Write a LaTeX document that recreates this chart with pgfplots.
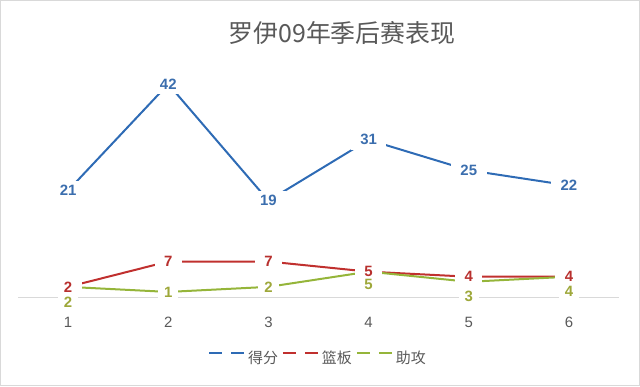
\documentclass[border=0pt]{standalone}
\usepackage{fontspec}
\setmainfont{Liberation Sans}
\newfontfamily\cjk{Noto Sans CJK SC}
\usepackage{pgfplots}
\pgfplotsset{compat=1.18}
\definecolor{cblue}{HTML}{2E6BB5}
\definecolor{cred}{HTML}{C0302E}
\definecolor{cgreen}{HTML}{95B53A}
\definecolor{lblue}{HTML}{3B6EAE}
\definecolor{lred}{HTML}{B8302E}
\definecolor{lgreen}{HTML}{9EA83A}
\definecolor{tgray}{HTML}{595959}
\definecolor{fgray}{HTML}{D9D9D9}

\pgfplotstableread{
x y v
1 21 21
2 42 42
3 19 19
4 31 31
5 25 25
6 22 22
}\ptsdata
\pgfplotstableread{
x y v
1 2 2
2 7 7
3 7 7
4 5 5
5 4 4
6 4 4
}\rebdata
\pgfplotstableread{
x y v
1 2 2
2 1 1
3 2 2
4 5 5
5 3 3
6 4 4
}\astdata
\pgfplotstableread{
x y v
1 -1 2
2 1 1
3 2 2
4 2.45 5
5 0.2 3
6 1.2 4
}\astlabels

\begin{document}
\begin{tikzpicture}[x=1bp,y=1bp]
\draw[fgray, line width=1bp] (0.5,0.5) rectangle (639.5,385.5);
\useasboundingbox (0,0) rectangle (640,386);
\node[text=tgray, font=\cjk\fontsize{25}{30}\selectfont] at (342,353) {罗伊09年季后赛表现};
\begin{axis}[
  at={(18bp,89bp)}, anchor=south west,
  scale only axis, width=601bp, height=253.5bp,
  xmin=0.5, xmax=6.5, ymin=0, ymax=50,
  axis x line=bottom, axis y line=none,
  x axis line style={fgray, line width=1bp, -},
  xtick={1,2,3,4,5,6}, major tick length=0pt,
  xticklabel style={anchor=center, yshift=-25bp, font=\fontsize{15}{18}\selectfont, text=tgray},
  /pgf/number format/assume math mode=true,
  clip=false,
  legend style={at={(0.499,-0.2406)}, anchor=center, draw=none, fill=none,
    legend columns=-1, font=\cjk\fontsize{15}{18}\selectfont, text=tgray,
    /tikz/every even column/.style={column sep=2bp},
    /tikz/every odd column/.style={column sep=1bp}},
  legend image code/.code={\draw[#1, line width=2bp, dash pattern=on 13bp off 9bp] (0,0) -- (35bp,0);},
  every node near coord/.append style={anchor=center, font=\bfseries\fontsize{15}{18}\selectfont, fill=white, inner xsep=9.5bp, inner ysep=4.5bp},
]
\addplot[cblue, line width=2bp, line join=round] table[x=x,y=y] {\ptsdata};
\addlegendentry{得分}
\addplot[cred, line width=2bp, line join=round] table[x=x,y=y] {\rebdata};
\addlegendentry{篮板}
\addplot[cgreen, line width=2bp, line join=round] table[x=x,y=y] {\astdata};
\addlegendentry{助攻}

\addplot[draw=none, forget plot, nodes near coords, point meta=explicit,
  every node near coord/.append style={text=lblue}] table[x=x,y=y,meta=v] {\ptsdata};
\addplot[draw=none, forget plot, nodes near coords, point meta=explicit,
  every node near coord/.append style={text=lred}] table[x=x,y=y,meta=v] {\rebdata};
\addplot[draw=none, forget plot, nodes near coords, point meta=explicit,
  every node near coord/.append style={text=lgreen, inner xsep=6bp, inner ysep=1.5bp}] table[x=x,y=y,meta=v] {\astlabels};
\end{axis}
\end{tikzpicture}
\end{document}
